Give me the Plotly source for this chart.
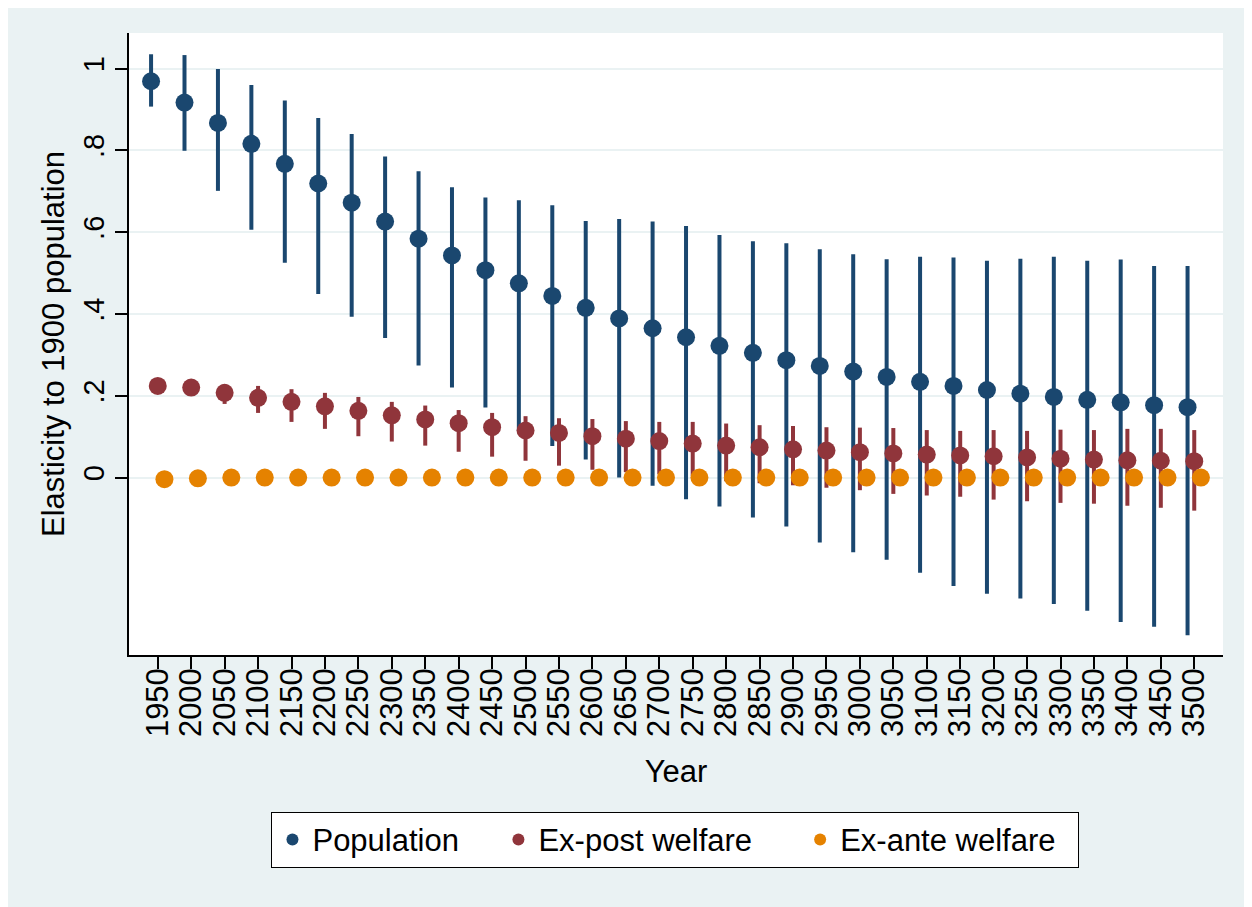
import plotly.graph_objects as go

years = [1950, 2000, 2050, 2100, 2150, 2200, 2250, 2300,
         2350, 2400, 2450, 2500, 2550, 2600, 2650, 2700,
         2750, 2800, 2850, 2900, 2950, 3000, 3050, 3100,
         3150, 3200, 3250, 3300, 3350, 3400, 3450, 3500]

pop = [0.969, 0.917, 0.867, 0.816, 0.767, 0.719, 0.672, 0.626,
       0.584, 0.543, 0.507, 0.475, 0.444, 0.415, 0.389, 0.365,
       0.343, 0.322, 0.305, 0.287, 0.273, 0.259, 0.246, 0.234,
       0.224, 0.214, 0.205, 0.197, 0.190, 0.184, 0.177, 0.172]
pop_hi = [1.035, 1.033, 0.999, 0.960, 0.922, 0.879, 0.840, 0.785,
          0.749, 0.710, 0.685, 0.678, 0.666, 0.627, 0.632, 0.626,
          0.615, 0.593, 0.578, 0.573, 0.558, 0.546, 0.534, 0.540,
          0.538, 0.530, 0.535, 0.540, 0.530, 0.533, 0.517, 0.517]
pop_lo = [0.907, 0.799, 0.701, 0.606, 0.525, 0.449, 0.393, 0.341,
          0.274, 0.220, 0.171, 0.114, 0.077, 0.044, 0.000, -0.020,
          -0.053, -0.071, -0.098, -0.120, -0.159, -0.183, -0.201, -0.233,
          -0.265, -0.284, -0.296, -0.309, -0.326, -0.353, -0.365, -0.386]

expost = [0.224, 0.220, 0.207, 0.195, 0.185, 0.174, 0.163, 0.152,
          0.142, 0.133, 0.123, 0.115, 0.109, 0.101, 0.095, 0.089,
          0.083, 0.078, 0.074, 0.069, 0.066, 0.062, 0.059, 0.056,
          0.054, 0.052, 0.049, 0.046, 0.044, 0.042, 0.041, 0.040]
expost_hi = [0.230, 0.226, 0.228, 0.224, 0.216, 0.207, 0.197, 0.185,
             0.176, 0.165, 0.158, 0.150, 0.145, 0.143, 0.138, 0.136,
             0.136, 0.132, 0.128, 0.126, 0.123, 0.122, 0.121, 0.116,
             0.114, 0.116, 0.114, 0.117, 0.116, 0.119, 0.119, 0.116]
expost_lo = [0.218, 0.214, 0.180, 0.158, 0.136, 0.119, 0.101, 0.088,
             0.078, 0.063, 0.051, 0.041, 0.029, 0.019, 0.013, 0.008,
             0.004, -0.009, -0.014, -0.019, -0.025, -0.031, -0.040, -0.044,
             -0.047, -0.054, -0.058, -0.062, -0.064, -0.069, -0.074, -0.081]

exante = [-0.004, -0.002] + [0.0] * 30
exante_hi = [v + 0.003 for v in exante]
exante_lo = [v - 0.003 for v in exante]

NAVY = "#1a476f"
MAROON = "#90353b"
ORANGE = "#e58200"
BG = "#eaf2f3"
FONT = "Liberation Sans, Arial, sans-serif"

# dodge the three series around each year
shift = 10
# extra room after each legend label
nb = "\u00a0"


def ci_trace(name, xs, y, lo, hi, color):
    return go.Scatter(
        x=xs,
        y=y,
        name=name,
        mode="markers",
        marker=dict(color=color, size=18, symbol="circle"),
        error_y=dict(
            type="data",
            symmetric=False,
            array=[h - v for h, v in zip(hi, y)],
            arrayminus=[v - l for l, v in zip(lo, y)],
            color=color,
            thickness=4,
            width=0,
        ),
    )


fig = go.Figure()
fig.add_trace(ci_trace("Population" + nb * 4, [y - shift for y in years], pop, pop_lo, pop_hi, NAVY))
fig.add_trace(ci_trace("Ex-post welfare" + nb * 5, years, expost, expost_lo, expost_hi, MAROON))
fig.add_trace(ci_trace("Ex-ante welfare" + nb * 2, [y + shift for y in years], exante, exante_lo, exante_hi, ORANGE))

# the page body adds 8px on the left/top, so the figure is 8px smaller
fig.update_layout(
    width=1244,
    height=899,
    margin=dict(l=121, r=29, t=25, b=252),
    paper_bgcolor=BG,
    plot_bgcolor="white",
    font=dict(family=FONT, color="black", size=24),
    showlegend=True,
    legend=dict(
        orientation="h",
        x=0.4995,
        xanchor="center",
        y=-0.252,
        yanchor="top",
        bgcolor="white",
        bordercolor="black",
        borderwidth=1,
        font=dict(size=31),
        itemsizing="constant",
    ),
)

fig.update_xaxes(
    range=[1907, 3543],
    tickvals=years,
    ticktext=[str(y) for y in years],
    tickangle=-90,
    ticks="outside",
    ticklen=12,
    tickwidth=1.5,
    tickcolor="black",
    tickfont=dict(size=31),
    ticklabelstandoff=-13,
    showline=True,
    linecolor="black",
    linewidth=1.5,
    showgrid=False,
    zeroline=False,
    automargin=False,
    title=dict(text="Year", font=dict(size=31), standoff=24),
)

fig.update_yaxes(
    range=[-0.434, 1.087],
    tickvals=[0, 0.2, 0.4, 0.6, 0.8, 1],
    ticktext=["0", ".2", ".4", ".6", ".8", "1"],
    tickangle=-90,
    ticks="outside",
    ticklen=12,
    tickwidth=1.5,
    tickcolor="black",
    tickfont=dict(size=29),
    showline=True,
    linecolor="black",
    linewidth=1.5,
    showgrid=True,
    gridcolor=BG,
    gridwidth=2,
    zeroline=False,
    automargin=False,
    title=dict(text="Elasticity to 1900 population", font=dict(size=31), standoff=4),
)

fig.write_html("out.html")
